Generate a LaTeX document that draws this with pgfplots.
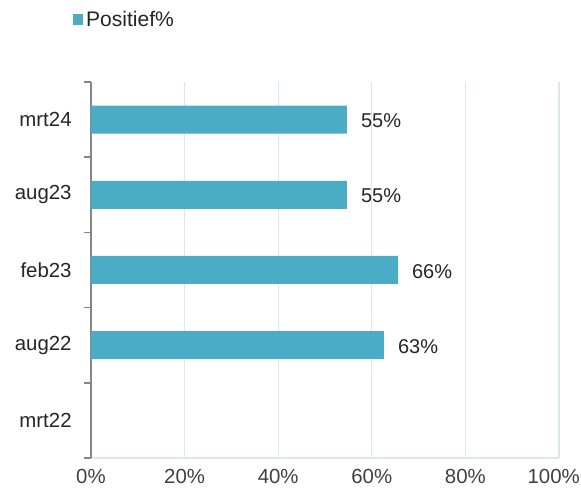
\documentclass[border=0pt]{standalone}
\usepackage{pgfplots}
\pgfplotsset{compat=1.18}
\usepackage{fontspec}
\setmainfont{Liberation Sans}
\definecolor{barc}{HTML}{4BACC6}
\definecolor{gridc}{HTML}{DCE8F0}
\definecolor{axc}{HTML}{868686}
\definecolor{txt}{HTML}{262626}
\definecolor{xtxt}{HTML}{404040}
\begin{document}
\begin{tikzpicture}
\begin{axis}[
  scale only axis,
  width=351pt, height=282pt,
  xbar, bar width=21pt,
  xmin=0, xmax=100,
  ymin=-0.5, ymax=4.5,
  xtick={0,20,40,60,80,100},
  xticklabels={0\%,20\%,40\%,60\%,80\%,\hspace*{-8pt}100\%},
  ytick={0,1,2,3,4},
  yticklabels={mrt22,aug22,feb23,aug23,mrt24},
  minor ytick={-0.5,0.5,1.5,2.5,3.5,4.5},
  major tick length=0pt,
  minor tick length=5pt,
  tick align=outside,
  tick style={axc, line width=1.1pt},
  xmajorgrids,
  grid style={gridc, line width=0.8pt},
  axis lines*=left,
  x axis line style={gridc, line width=0.8pt},
  y axis line style={axc, line width=1.3pt},
  /pgf/number format/assume math mode=true,
  tick label style={font=\fontsize{15.3}{17}\selectfont},
  xticklabel style={xtxt, yshift=-7pt, inner sep=1pt},
  yticklabel style={txt, xshift=-11pt},
  point meta=explicit,
  nodes near coords={\pgfmathprintnumber[fixed,precision=0]{\pgfplotspointmeta}\%},
  nodes near coords style={anchor=west, xshift=7pt, yshift=-1pt, txt, font=\fontsize{15}{17}\selectfont},
  legend style={at={(rel axis cs:-0.038,1.197)}, anchor=north west, draw=none, fill=none,
    font=\fontsize{15.8}{17}\selectfont, text=txt, inner sep=0pt},
  legend image code/.code={\fill[barc] (0pt,-3.8pt) rectangle (7.5pt,3.8pt);},
  clip=false,
]
\addplot[fill=barc, draw=none] coordinates {
  (62.6,1) [63]
  (65.6,2) [66]
  (54.7,3) [55]
  (54.7,4) [55]
};
\addlegendentry{Positief\%}
\coordinate (bl) at (rel axis cs:-0.1944,-0.0824);
\coordinate (tr) at (rel axis cs:1.047,1.218);
\end{axis}
\pgfresetboundingbox
\path[use as bounding box] (bl) rectangle (tr);
\end{tikzpicture}
\end{document}
